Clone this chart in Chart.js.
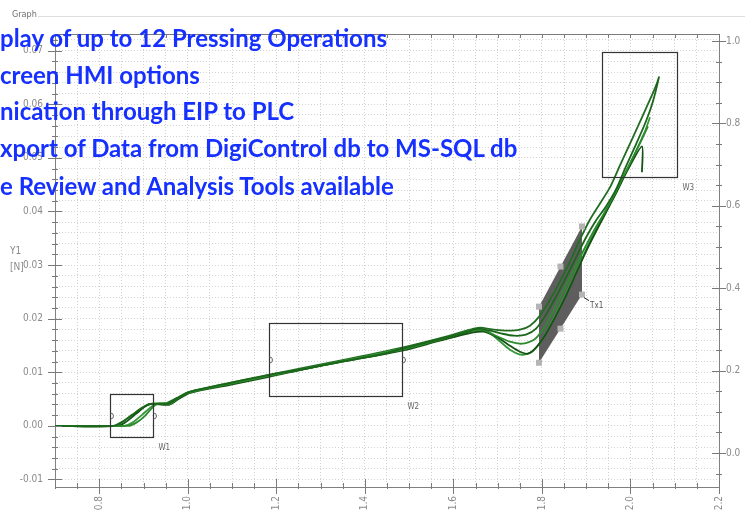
<!DOCTYPE html>
<html>
<head>
<meta charset="utf-8">
<script src="https://cdn.jsdelivr.net/npm/chart.js@4.4.1/dist/chart.umd.min.js"></script>
<style>
  html, body { margin: 0; padding: 0; background: #fff; }
  #wrap { position: relative; width: 749px; height: 517px; overflow: hidden; }
  #c { position: absolute; left: 0; top: 0; }
  .cap { position: absolute; left: 12px; top: 9px; font: 9px 'Liberation Sans Narrow', 'DejaVu Sans Condensed', sans-serif; color: #6f6f6f; }
  .gl { position: absolute; left: 38px; right: 4px; top: 16px; border-top: 1px solid #dedede; }
  .yt { position: absolute; left: 10px; font: 10px 'Liberation Sans Narrow', 'DejaVu Sans Condensed', sans-serif; color: #8a8a8a; }
  .note { position: absolute; left: 0; white-space: nowrap; font: bold 24px Lato, sans-serif; line-height: 24px; color: #1530ff; }
</style>
</head>
<body>
<div id="wrap">
  <canvas id="c" width="749" height="517"></canvas>
  <div class="cap">Graph</div>
  <div class="gl"></div>
  <div class="yt" style="top:245px">Y1</div>
  <div class="yt" style="top:261px">[N]</div>
  <div class="note" style="top:26px">play of up to 12 Pressing Operations</div>
  <div class="note" style="top:63px">creen HMI options</div>
  <div class="note" style="top:99px">nication through EIP to PLC</div>
  <div class="note" style="top:136px">xport of Data from DigiControl db to MS-SQL db</div>
  <div class="note" style="top:174px">e Review and Analysis Tools available</div>
</div>
<script>
// Pressing curves: force Y1 [N] over stroke, 5 recorded operations
const press1 = [[0.700,0],[0.831,0],[0.8514,0.00075],[0.8740,0.00206],[0.8965,0.00336],[0.9146,0.00411],
  [0.9553,0.00411],[0.9779,0.00523],[1.0050,0.00636],[1.0953,0.00804],[1.1834,0.00953],[1.2535,0.01047],
  [1.3438,0.01196],[1.4342,0.01327],[1.4839,0.01439],[1.5471,0.01570],[1.5923,0.01664],[1.6330,0.01757],
  [1.6556,0.01813],[1.6827,0.01776],[1.7098,0.01720],[1.7369,0.01682],[1.7640,0.01701],[1.7866,0.01813],
  [1.8092,0.02075],[1.8318,0.02411],[1.8543,0.02766],[1.8769,0.03140],[1.8995,0.03514],[1.9221,0.03832],
  [1.9447,0.04093],[1.9673,0.04411],[1.9899,0.04841],[2.0125,0.05252],[2.0351,0.05682],[2.0509,0.06056],
  [2.0644,0.06505],[2.0599,0.06393]];
const press2 = [[0.700,0],[0.8649,0],[0.8830,0.00056],[0.9033,0.00187],[0.9214,0.00355],[0.9327,0.00411],
  [0.9598,0.00411],[0.9824,0.00542],[1.0095,0.00636],[1.0953,0.00785],[1.1834,0.00935],[1.2761,0.01084],
  [1.3890,0.01271],[1.4839,0.01421],[1.5697,0.01607],[1.6375,0.01776],[1.6646,0.01794],[1.6962,0.01682],
  [1.7278,0.01570],[1.7550,0.01533],[1.7821,0.01607],[1.8047,0.01832],[1.8273,0.02168],[1.8498,0.02542],
  [1.8724,0.02916],[1.8950,0.03290],[1.9176,0.03645],[1.9402,0.03963],[1.9628,0.04299],[1.9899,0.04748],
  [2.0170,0.05196],[2.0396,0.05589]];
const press3 = [[0.700,0],[0.8423,0],[0.8604,0.00075],[0.8830,0.00224],[0.9056,0.00374],[0.9191,0.00411],
  [0.9575,0.00393],[0.9801,0.00505],[1.0050,0.00617],[1.0953,0.00766],[1.1834,0.00916],[1.2986,0.01121],
  [1.4116,0.01290],[1.4839,0.01402],[1.5697,0.01589],[1.6420,0.01738],[1.6691,0.01757],[1.7007,0.01645],
  [1.7278,0.01495],[1.7504,0.01383],[1.7685,0.01346],[1.7866,0.01458],[1.8092,0.01720],[1.8318,0.02056],
  [1.8543,0.02430],[1.8769,0.02841],[1.8995,0.03252],[1.9221,0.03626],[1.9447,0.03981],[1.9673,0.04336],
  [1.9944,0.04785],[2.0260,0.05215],[2.0260,0.04729]];
const press4 = [[0.700,0],[0.8559,0],[0.8740,0.00056],[0.8965,0.00206],[0.9146,0.00336],[0.9282,0.00411],
  [0.9598,0.00430],[0.9869,0.00561],[1.0140,0.00654],[1.1179,0.00841],[1.1834,0.00935],[1.3212,0.01159],
  [1.4839,0.01439],[1.5923,0.01645],[1.6465,0.01776],[1.6736,0.01776],[1.7007,0.01607],[1.7278,0.01421],
  [1.7550,0.01327],[1.7775,0.01383],[1.8001,0.01607],[1.8227,0.01944],[1.8453,0.02318],[1.8679,0.02710],
  [1.8905,0.03121],[1.9131,0.03514],[1.9357,0.03869],[1.9582,0.04206],[1.9808,0.04579],[2.0079,0.05047],
  [2.0328,0.05495],[2.0441,0.05757]];
const press5 = [[0.700,0],[0.8355,0],[0.8559,0.00093],[0.8785,0.00224],[0.9011,0.00355],[0.9169,0.00411],
  [0.9530,0.00430],[0.9756,0.00523],[1.0027,0.00636],[1.1066,0.00804],[1.1834,0.00953],[1.3438,0.01215],
  [1.4839,0.01458],[1.5833,0.01664],[1.6375,0.01794],[1.6601,0.01832],[1.6917,0.01794],[1.7233,0.01776],
  [1.7504,0.01794],[1.7730,0.01869],[1.7956,0.02056],[1.8182,0.02355],[1.8408,0.02692],[1.8634,0.03065],
  [1.8860,0.03477],[1.9086,0.03850],[1.9312,0.04150],[1.9537,0.04449],[1.9763,0.04860],[2.0034,0.05346],
  [2.0260,0.05757],[2.0486,0.06168],[2.0599,0.06393]];
const curves = [press1, press2, press3, press4, press5];
const lineCols = ['#1a661a', '#2c8a2c', '#145214', '#35973a', '#226c22'];

// axis ticks
const xMajor = [0.8, 1.0, 1.2, 1.4, 1.6, 1.8, 2.0, 2.2];
const xLabels = ['0.8', '1.0', '1.2', '1.4', '1.6', '1.8', '2.0', '2.2'];
const yMajor = [-0.01, 0, 0.01, 0.02, 0.03, 0.04, 0.05, 0.06, 0.07];
const yLabels = ['-0.01', '0.00', '0.01', '0.02', '0.03', '0.04', '0.05', '0.06', '0.07'];
const y2Major = [0, 0.2, 0.4, 0.6, 0.8, 1.0];
const y2Labels = ['0.0', '0.2', '0.4', '0.6', '0.8', '1.0'];

// evaluation windows (x from-to, y from-to) and the tolerance band Tx1
const W1 = [0.824, 0.921, -0.0021, 0.0060];
const W2 = [1.183, 1.484, 0.0056, 0.0191];
const W3 = [1.936, 2.105, 0.0465, 0.0697];
const Tx1 = [[1.7934, 0.02224], [1.8905, 0.03720], [1.8905, 0.02449], [1.7934, 0.01178]];

const steps = (a, b, d) => { const r = []; for (let v = a; v <= b + d / 10; v += d) r.push(+v.toFixed(4)); return r; };
const xTicks = steps(0.70, 2.20, 0.05);
const yTicks = steps(-0.010, 0.072, 0.002);
const y2Ticks = steps(-0.05, 1.0, 0.05);
const isMaj = (arr, v) => arr.some(m => Math.abs(m - v) < 1e-6);
const lab = (arr, txt, v) => { const i = arr.findIndex(m => Math.abs(m - v) < 1e-6); return i < 0 ? '' : txt[i]; };

const FONT = "'Liberation Sans Narrow', 'DejaVu Sans Condensed', sans-serif";
const GRAY = '#8a8a8a';

const frame = {
  id: 'frame',
  beforeDatasetsDraw(chart) {
    const { ctx } = chart, x = chart.scales.x, y = chart.scales.y;
    ctx.save();
    ctx.fillStyle = 'rgba(72,72,72,0.88)';
    ctx.beginPath();
    Tx1.forEach((p, i) => {
      const px = x.getPixelForValue(p[0]), py = y.getPixelForValue(p[1]);
      i ? ctx.lineTo(px, py) : ctx.moveTo(px, py);
    });
    ctx.closePath(); ctx.fill();
    ctx.restore();
  },
  afterDatasetsDraw(chart) {
    const { ctx, chartArea: a } = chart, x = chart.scales.x, y = chart.scales.y, y2 = chart.scales.y2;
    ctx.save();
    // Tx1 handles
    ctx.fillStyle = '#b4b4b4';
    const hp = Tx1.map(p => [x.getPixelForValue(p[0]), y.getPixelForValue(p[1])]);
    const hs = hp.concat([[(hp[0][0] + hp[1][0]) / 2, (hp[0][1] + hp[1][1]) / 2], [(hp[2][0] + hp[3][0]) / 2, (hp[2][1] + hp[3][1]) / 2]]);
    hs.forEach(p => ctx.fillRect(p[0] - 3, p[1] - 3, 6, 6));
    ctx.strokeStyle = '#222'; ctx.lineWidth = 1;
    ctx.beginPath(); ctx.moveTo(hp[2][0] + 2, hp[2][1] + 3); ctx.lineTo(hp[2][0] + 7, hp[2][1] + 6); ctx.stroke();
    ctx.font = '8px ' + FONT; ctx.fillStyle = '#555'; ctx.textBaseline = 'middle';
    ctx.fillText('Tx1', hp[2][0] + 8, hp[2][1] + 11);

    // windows
    [[W1, 'W1'], [W2, 'W2'], [W3, 'W3']].forEach(([w, name]) => {
      const l = Math.round(x.getPixelForValue(w[0])) + 0.5, r = Math.round(x.getPixelForValue(w[1])) + 0.5;
      const b = Math.round(y.getPixelForValue(w[2])) + 0.5, t = Math.round(y.getPixelForValue(w[3])) + 0.5;
      ctx.strokeStyle = '#333'; ctx.lineWidth = 1.2;
      ctx.strokeRect(l, t, r - l, b - t);
      if (name !== 'W3') {
        ctx.strokeStyle = '#666'; ctx.lineWidth = 1;
        [l, r].forEach(px => { ctx.beginPath(); ctx.arc(px, (t + b) / 2, 3, -Math.PI / 2, Math.PI / 2); ctx.stroke(); });
      }
      ctx.fillStyle = '#666'; ctx.font = '8px ' + FONT;
      ctx.fillText(name, r + 5, b + 10);
    });

    // plot frame + tick marks
    ctx.strokeStyle = '#7a7a7a'; ctx.lineWidth = 1;
    ctx.beginPath();
    ctx.moveTo(a.left, a.top + 0.5); ctx.lineTo(a.right, a.top + 0.5);
    xTicks.forEach(v => {
      const px = Math.round(x.getPixelForValue(v)) + 0.5, m = isMaj(xMajor, v);
      ctx.moveTo(px, a.bottom - (m ? 8 : 4)); ctx.lineTo(px, a.bottom + (m ? 7 : 2));
      ctx.moveTo(px, a.top); ctx.lineTo(px, a.top + 4);
    });
    yTicks.forEach(v => {
      const py = Math.round(y.getPixelForValue(v)) + 0.5, m = isMaj(yMajor, v);
      ctx.moveTo(a.left - (m ? 7 : 3), py); ctx.lineTo(a.left + (m ? 7 : 3), py);
    });
    y2Ticks.forEach(v => {
      const py = Math.round(y2.getPixelForValue(v)) + 0.5, m = isMaj(y2Major, v);
      ctx.moveTo(a.right - (m ? 7 : 3), py); ctx.lineTo(a.right + (m ? 7 : 3), py);
    });
    ctx.stroke();
    ctx.restore();
  }
};

const gridStyle = { color: '#d2d2d2', lineWidth: 1, drawTicks: false };
const borderStyle = { display: true, color: '#808080', width: 1, dash: [1, 2] };
const tickFont = { family: FONT, size: 10 };

new Chart(document.getElementById('c'), {
  type: 'scatter',
  data: {
    datasets: curves.map((c, i) => ({
      data: c.map(p => ({ x: p[0], y: p[1] })),
      showLine: true, borderColor: lineCols[i], borderWidth: 1.8,
      pointRadius: 0, tension: 0.25, yAxisID: 'y',
    })),
  },
  plugins: [frame],
  options: {
    responsive: false, animation: false, events: [],
    layout: { padding: { top: 34, left: 0, right: 0, bottom: 0 } },
    plugins: { legend: { display: false }, tooltip: { enabled: false } },
    scales: {
      x: {
        type: 'linear', min: 0.7, max: 2.2,
        afterBuildTicks: s => { s.ticks = xTicks.map(v => ({ value: v })); },
        afterFit: s => { s.height = 30; },
        grid: gridStyle, border: borderStyle,
        ticks: { autoSkip: false, minRotation: 90, maxRotation: 90, padding: 9, color: GRAY, font: tickFont,
                 callback: v => lab(xMajor, xLabels, v) },
      },
      y: {
        type: 'linear', position: 'left', min: -0.0114, max: 0.0731,
        afterBuildTicks: s => { s.ticks = yTicks.map(v => ({ value: v })); },
        afterFit: s => { s.width = 55; },
        grid: gridStyle, border: borderStyle,
        ticks: { autoSkip: false, padding: 12, color: GRAY, font: tickFont,
                 callback: v => lab(yMajor, yLabels, v) },
      },
      y2: {
        type: 'linear', position: 'right', min: -0.0827, max: 1.017,
        afterBuildTicks: s => { s.ticks = y2Ticks.map(v => ({ value: v })); },
        afterFit: s => { s.width = 30; },
        grid: { display: false, drawTicks: false }, border: { display: true, color: '#808080', width: 1 },
        ticks: { autoSkip: false, padding: 7, color: GRAY, font: tickFont,
                 callback: v => lab(y2Major, y2Labels, v) },
      },
    },
  },
});
</script>
</body>
</html>
